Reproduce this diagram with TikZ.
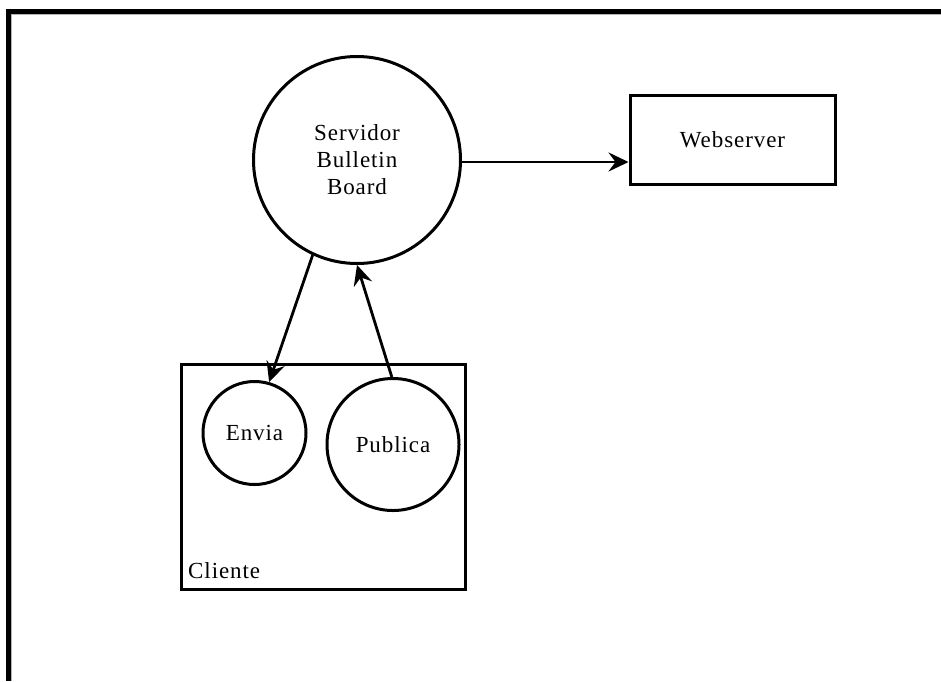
\documentclass[tikz,border=0pt]{standalone}
\usepackage{fontspec}
\setmainfont{Liberation Serif}[LetterSpace=4]
\usetikzlibrary{arrows.meta}
\begin{document}
\begin{tikzpicture}[x=1pt,y=-1pt,
  txt/.style={font=\fontsize{23}{27}\selectfont},
  proc/.style={circle,draw,line width=3pt,inner sep=0pt,txt,align=center},
  boxnode/.style={draw,line width=3pt,inner sep=0pt,txt},
  conn/.style={line width=2.8pt,-{Stealth[length=20pt,width=19pt,inset=7pt]}}]
\useasboundingbox (0,0) rectangle (941,681);
% outer frame (left and top edges only)
\fill[black] (6,9) rectangle (10.5,681);
\fill[black] (6,9) rectangle (941,13.5);
\fill[gray!60] (10.5,13.5) rectangle (11.5,681);
\fill[gray!60] (10.5,13.5) rectangle (941,14.5);
% nodes
\node[proc,minimum size=207] (srv) at (357,160) {Servidor\\Bulletin\\Board};
\node[boxnode,minimum width=205,minimum height=89] (web) at (732.5,139.5) {Webserver};
\node[boxnode,minimum width=284,minimum height=225] (cli) at (323,476.5) {};
\node[txt,anchor=base west,inner sep=0pt] (clit) at (188,578) {Cliente};
\node[proc,minimum size=103] (envia) at (254.5,433) {Envia};
\node[proc,minimum size=132] (pub) at (393,444.5) {Publica};
% connectors
\draw[conn] ([yshift=-2pt]srv.east) -- ([yshift=-2pt]srv.east -| web.west);
\draw[conn] (srv.-115.6) -- (envia.74);
\draw[conn] (pub.91) -- (srv.-90);
\end{tikzpicture}
\end{document}
